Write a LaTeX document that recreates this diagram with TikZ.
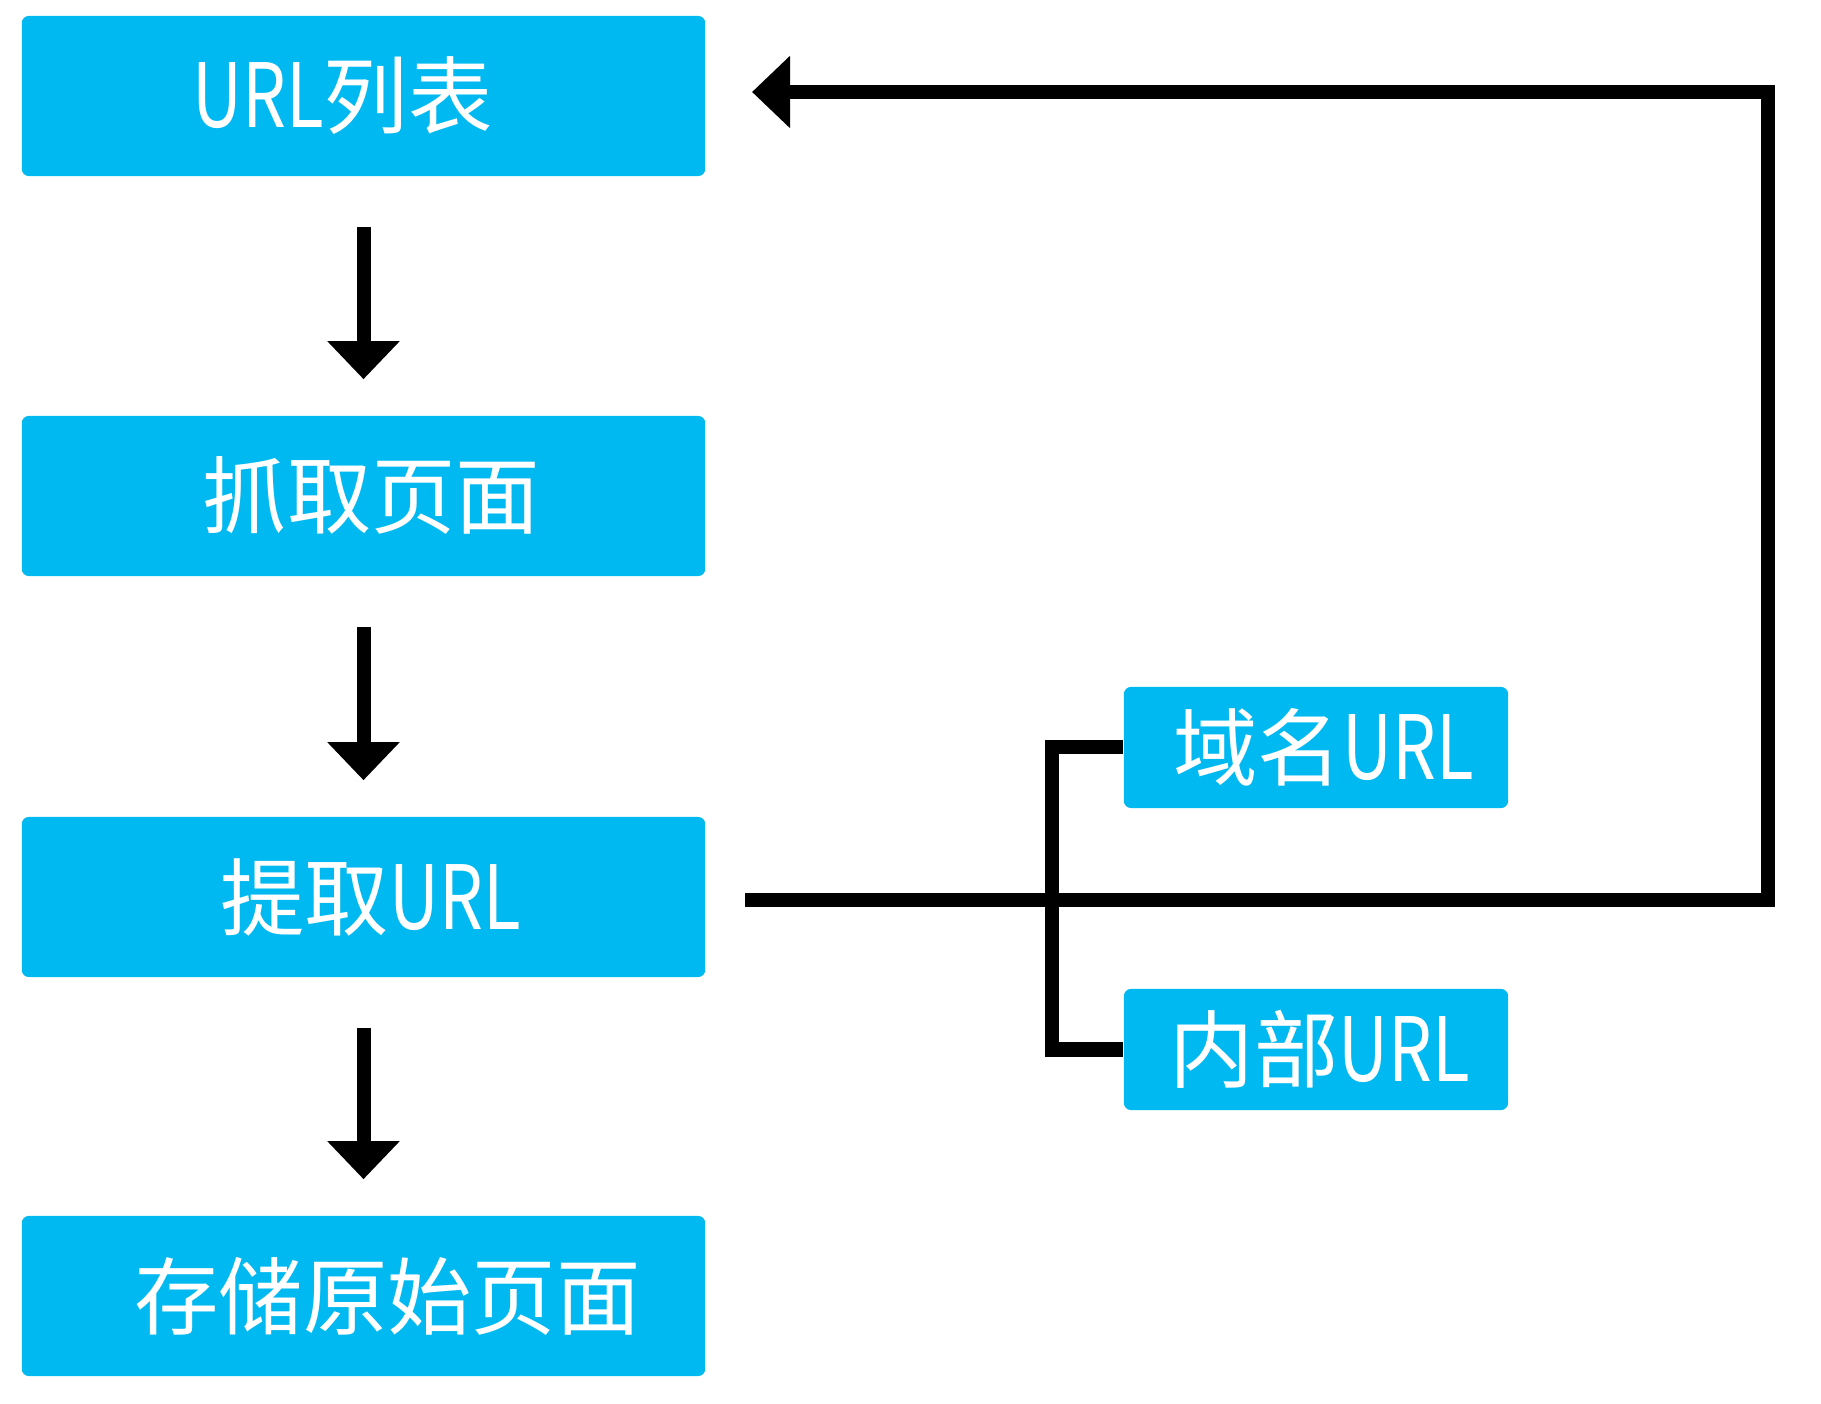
\documentclass[tikz,border=0pt]{standalone}
\usepackage{fontspec}
\setmainfont{Noto Sans CJK SC}
\newfontfamily\latinnarrow[FakeStretch=0.78,Scale=1.05]{Noto Sans CJK SC}
\usetikzlibrary{arrows.meta}
\definecolor{boxblue}{RGB}{0,185,240}
\newcommand{\urltext}{{\latinnarrow URL}}

\begin{document}
\begin{tikzpicture}[x=0.01cm,y=-0.01cm,
	stage/.style={fill=boxblue,text=white,rounded corners=0.07cm,inner sep=0pt,
		minimum width=6.83cm,minimum height=1.6cm,font=\fontsize{24}{28}\selectfont},
	kind/.style={stage,minimum width=3.84cm,minimum height=1.21cm},
	wire/.style={line width=0.14cm},
	flow/.style={wire,-{Triangle[length=0.38cm,width=0.7cm]}},
	down/.style={flow,shorten <=0.5cm,shorten >=0.36cm}]
	\useasboundingbox (0,0) rectangle (1821,1404);
	\node[stage] (list) at (363.5,96) {\hspace*{-0.42cm}\urltext 列表};
	\node[stage] (fetch) at (363.5,496) {\hspace*{0.16cm}抓取页面};
	\node[stage] (extract) at (363.5,897) {\hspace*{0.14cm}提取\urltext};
	\node[stage] (store) at (363.5,1296) {\hspace*{0.48cm}存储原始页面};
	\node[kind] (domain) at (1316,747.5) {\hspace*{0.15cm}域名\urltext};
	\node[kind] (inner) at (1316,1049.5) {\hspace*{0.08cm}内部\urltext};
	\coordinate (out) at (745,900);
	\coordinate (corner) at (1768,92);
	\coordinate (back) at (752,92);
	\coordinate (fork) at (1052,900);
	\draw[down] (list) -- (fetch);
	\draw[down] (fetch) -- (extract);
	\draw[down] (extract) -- (store);
	\draw[flow] (out) -| (corner) -- (back);
	\draw[wire] (domain.west) -| (fork) |- (inner.west);
\end{tikzpicture}
\end{document}
